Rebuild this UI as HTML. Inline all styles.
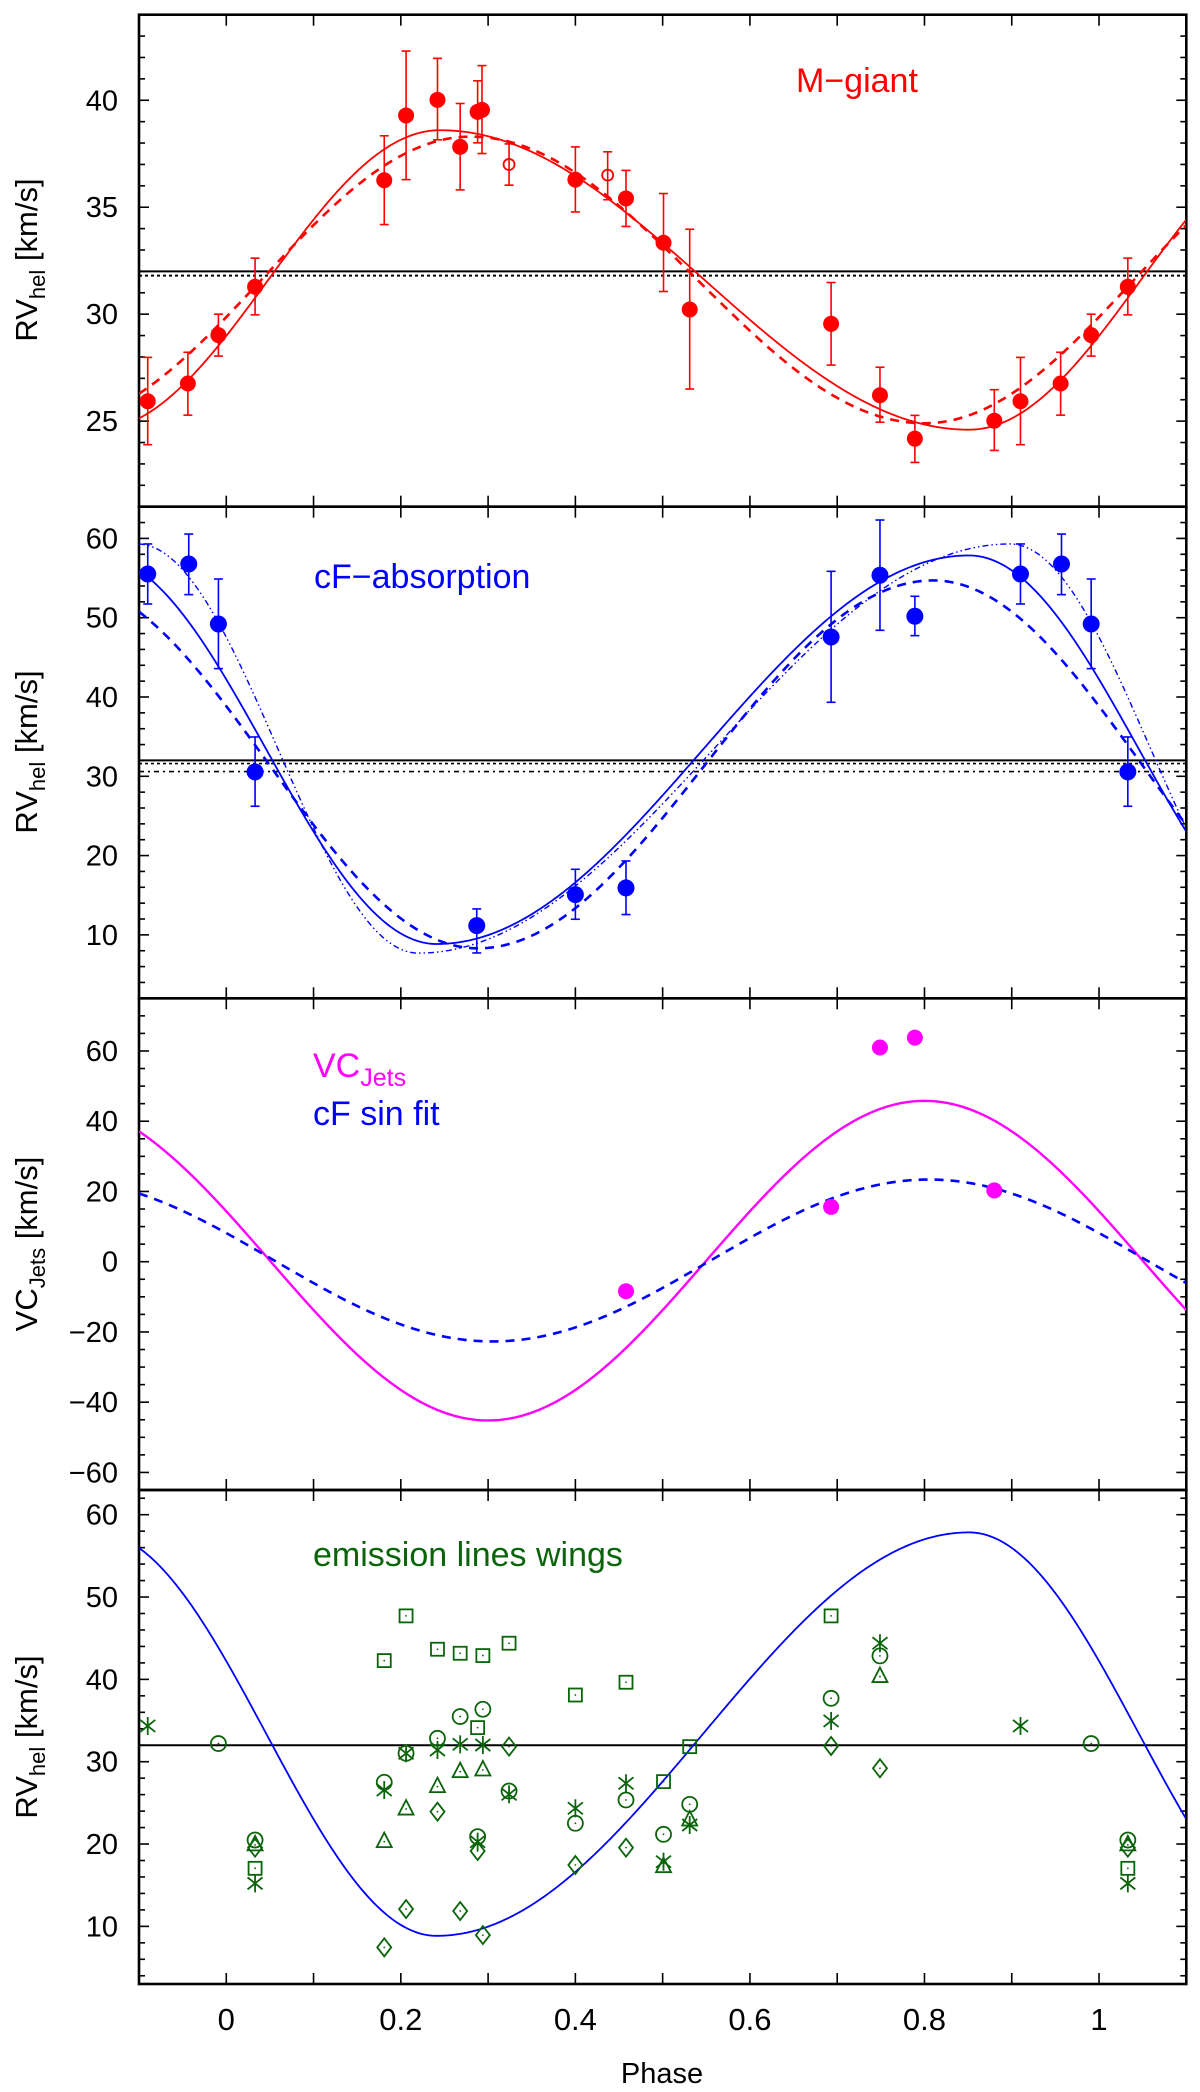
<!DOCTYPE html>
<html><head><meta charset="utf-8">
<style>
html,body{margin:0;padding:0;background:#fff;}
svg{display:block;font-family:"Liberation Sans",Arial,sans-serif;}
</style></head>
<body>
<svg id="chart" width="1200" height="2092" viewBox="0 0 1200 2092" xmlns="http://www.w3.org/2000/svg">
<defs>
<clipPath id="c0"><rect x="139" y="14.7" width="1047" height="492"/></clipPath>
<clipPath id="c1"><rect x="139" y="506.7" width="1047" height="491.6"/></clipPath>
<clipPath id="c2"><rect x="139" y="998.3" width="1047" height="491.7"/></clipPath>
<clipPath id="c3"><rect x="139" y="1490" width="1047" height="494"/></clipPath>
</defs>
</svg>
<script>
// ---------- data ----------
const mgPhase  = [0.181,0.206,0.242,0.268,0.288,0.293,0.400,0.458,0.501,0.531,0.693,0.749,0.789,0.880,0.910,0.956,0.991,0.033];
const mgValue  = [36.26,39.29,40.02,37.82,39.46,39.55,36.29,35.41,33.34,30.22,29.55,26.21,24.18,25.02,25.93,26.76,29.02,31.28];
const mgLow    = [34.19,36.29,38.15,35.81,38.01,37.51,34.78,34.10,31.06,26.50,27.62,24.95,23.07,23.63,23.90,25.28,28.04,29.97];
const mgHigh   = [38.34,42.30,41.96,39.85,40.91,41.62,37.82,36.72,35.64,33.97,31.48,27.52,25.27,26.47,27.98,28.22,30.00,32.62];
const mgOpenPhase = [0.324,0.437];
const mgOpenValue = [37.0,36.5];
const mgOpenLow   = [36.03,35.35];
const mgOpenHigh  = [37.96,37.59];
const cfPhase = [0.033,0.287,0.400,0.458,0.693,0.749,0.789,0.910,0.957,0.991];
const cfValue = [30.55,11.17,15.08,15.92,47.57,55.35,50.18,55.51,56.77,49.21];
const cfLow   = [26.22,7.72,11.97,12.56,39.33,48.41,47.74,51.73,52.91,43.58];
const cfHigh  = [34.96,13.27,18.27,19.32,55.85,62.32,52.70,59.30,60.55,54.88];
const jetPhase = [0.458,0.693,0.749,0.789,0.880];
const jetValue = [-8.4,15.6,61.0,63.8,20.3];
const sqPhase = [0.033,0.181,0.206,0.242,0.268,0.288,0.294,0.324,0.400,0.458,0.501,0.531,0.693];
const sqValue = [17.05,42.28,47.71,43.66,43.17,34.14,42.89,44.39,38.10,39.65,27.58,31.83,47.71];
const ciPhase = [0.033,0.181,0.206,0.242,0.268,0.288,0.294,0.324,0.400,0.458,0.501,0.531,0.693,0.749,0.991];
const ciValue = [20.49,27.50,31.02,32.84,35.48,20.90,36.37,26.44,22.52,25.35,21.18,24.82,37.70,42.85,32.20];
const stPhase = [0.033,0.181,0.206,0.242,0.268,0.288,0.294,0.324,0.400,0.458,0.501,0.531,0.693,0.749,0.910];
const stValue = [15.22,26.56,31.02,31.42,32.11,20.29,32.03,26.04,24.34,27.38,17.86,22.31,34.95,44.39,34.34];
const trPhase = [0.033,0.181,0.206,0.242,0.268,0.294,0.501,0.531,0.749];
const trValue = [19.9,20.29,24.25,26.97,28.79,28.99,17.25,22.92,40.34];
const dmPhase = [0.033,0.181,0.206,0.242,0.268,0.288,0.294,0.324,0.400,0.458,0.693,0.749];
const dmValue = [19.56,7.45,12.10,23.93,11.86,19.15,8.94,31.83,17.45,19.56,31.91,29.20];
// Fit curves: [phase of max, fraction falling, systemic, semi-amplitude]
const mgSolidFit  = [0.245,0.606,31.6,7.0];
const mgDashFit   = [0.28,0.52,31.6,6.7];
const cfSolidFit  = [0.851,0.39,33.35,24.5];
const cfDashFit   = [0.81,0.478,31.5,23.2];
const cfDotFit    = [0.898,0.322,33.5,25.8];
const jetFit      = [0.8,0.5,0.3,45.5];
const cfSinFit    = [0.805,0.5,0.35,23.05];
const xTickLabels = ["0","0.2","0.4","0.6","0.8","1"];
const xTickValues = [0,0.2,0.4,0.6,0.8,1];
const p1Ticks = [25,30,35,40];
const p2Ticks = [10,20,30,40,50,60];
const p3Ticks = [-60,-40,-20,0,20,40,60];
const p4Ticks = [10,20,30,40,50,60];

// ---------- layout ----------
const NS="http://www.w3.org/2000/svg";
const svg=document.getElementById('chart');
const X0=139, X1=1186.3, PMIN=-0.1, PMAX=1.1;
function xs(p){return X0+(p-PMIN)/(PMAX-PMIN)*(X1-X0);}
const panels=[
 {top:14.7,bot:506.7,vmin:21,vmax:44,major:p1Ticks,minor:1},
 {top:506.7,bot:998.3,vmin:2,vmax:64,major:p2Ticks,minor:2},
 {top:998.3,bot:1490,vmin:-65,vmax:75,major:p3Ticks,minor:5},
 {top:1490,bot:1984,vmin:3,vmax:63,major:p4Ticks,minor:2}];
function ys(i,v){const P=panels[i];return P.top+(P.vmax-v)/(P.vmax-P.vmin)*(P.bot-P.top);}
function mk(tag,attrs,parent){const e=document.createElementNS(NS,tag);for(const k in attrs)e.setAttribute(k,attrs[k]);(parent||svg).appendChild(e);return e;}
function fitVal(f,p){const d=(((p-f[0])%1)+1)%1;const u=d<f[1]?d/f[1]:1+(d-f[1])/(1-f[1]);return f[2]+f[3]*Math.cos(Math.PI*u);}
function copies(p){const r=[];for(const s of [-1,0,1]){const q=p+s;if(q>=PMIN-0.001&&q<=PMAX+0.001)r.push(q);}return r;}

function curve(i,f,color,dash,w,name){
 let d="";for(let k=0;k<=600;k++){const p=PMIN+(PMAX-PMIN)*k/600;d+=(k?"L":"M")+xs(p).toFixed(2)+","+ys(i,fitVal(f,p)).toFixed(2);}
 const e=mk('path',{d:d,fill:'none',stroke:color,'stroke-width':w,'clip-path':'url(#c'+i+')'});
 if(dash)e.setAttribute('stroke-dasharray',dash);
 
 
}
function hline(i,v,dash,w,name){
 const e=mk('line',{x1:X0,x2:X1,y1:ys(i,v),y2:ys(i,v),stroke:'#000','stroke-width':w});
 if(dash)e.setAttribute('stroke-dasharray',dash);
 
 
}
function errPoint(i,p,v,lo,hi,color,r,open,name){
 const g=mk('g',{});
 
 
 const x=xs(p);
 mk('line',{x1:x,x2:x,y1:ys(i,lo),y2:ys(i,hi),stroke:color,'stroke-width':1.6},g);
 mk('line',{x1:x-4.5,x2:x+4.5,y1:ys(i,lo),y2:ys(i,lo),stroke:color,'stroke-width':1.6},g);
 mk('line',{x1:x-4.5,x2:x+4.5,y1:ys(i,hi),y2:ys(i,hi),stroke:color,'stroke-width':1.6},g);
 if(open)mk('circle',{cx:x,cy:ys(i,v),r:r-1.5,fill:'none',stroke:color,'stroke-width':1.8},g);
 else mk('circle',{cx:x,cy:ys(i,v),r:r,fill:color},g);
}

panels.forEach((P,i)=>{
 const fr=mk('rect',{x:X0,y:P.top,width:X1-X0,height:P.bot-P.top,fill:'none',stroke:'#000','stroke-width':2.6});
 
 
 const tg=mk('g',{stroke:'#000','stroke-width':1.6});
 
 
 for(let k=-1;k<=11;k++){const x=xs(k/10);if(x<X0+2||x>X1-2)continue;
  mk('line',{x1:x,x2:x,y1:P.top,y2:P.top+11},tg);mk('line',{x1:x,x2:x,y1:P.bot,y2:P.bot-11},tg);}
 for(let v=Math.ceil(P.vmin/P.minor)*P.minor;v<=P.vmax;v+=P.minor){const y=ys(i,v);
  if(y<P.top+2||y>P.bot-2)continue;const L=P.major.includes(v)?10:6;
  mk('line',{x1:X0,x2:X0+L,y1:y,y2:y},tg);mk('line',{x1:X1,x2:X1-L,y1:y,y2:y},tg);}
 P.major.forEach(v=>{const t=mk('text',{x:118,y:ys(i,v)+10,'font-size':29,'text-anchor':'end',fill:'#000'});t.textContent=String(v).replace('-','\u2212');
  
  });
});

function ytitle(cy,main,sub,name){
 const t=mk('text',{transform:'translate(37,'+cy+') rotate(-90)','font-size':31,'text-anchor':'middle',fill:'#000'});
 t.innerHTML=main+'<tspan font-size="22" dy="8">'+sub+'</tspan><tspan dy="-8"> [km/s]</tspan>';
 
 
}
ytitle(260,'RV','hel','y-axis-title-panel1');
ytitle(752,'RV','hel','y-axis-title-panel2');
ytitle(1244,'VC','Jets','y-axis-title-panel3');
ytitle(1737,'RV','hel','y-axis-title-panel4');

xTickValues.forEach((v,k)=>{const t=mk('text',{x:xs(v),y:2030,'font-size':31,'text-anchor':'middle',fill:'#000'});t.textContent=xTickLabels[k];
 
 });
const xt=mk('text',{x:662,y:2083,'font-size':29,'text-anchor':'middle',fill:'#000'});xt.textContent='Phase';



// Panel 1
hline(0,32.0,null,2,'systemic-velocity-line');
hline(0,31.8,'3,3',2,'systemic-velocity-dotted-line');
curve(0,mgSolidFit,'#ff0000',null,1.8,'mgiant-solid-fit');
curve(0,mgDashFit,'#ff0000','9,7',2.6,'mgiant-dashed-fit');
mgPhase.forEach((p,k)=>copies(p).forEach(q=>errPoint(0,q,mgValue[k],mgLow[k],mgHigh[k],'#ff0000',8,false,'mgiant-point')));
mgOpenPhase.forEach((p,k)=>copies(p).forEach(q=>errPoint(0,q,mgOpenValue[k],mgOpenLow[k],mgOpenHigh[k],'#ff0000',7,true,'mgiant-open-point')));
let t=mk('text',{x:796,y:92,'font-size':34,fill:'#ff0000'});t.textContent='M\u2212giant';



// Panel 2
hline(1,32.0,null,2,'systemic-velocity-line-2');
hline(1,31.6,'3,3',1.6,'systemic-dotted-line-2');
hline(1,30.6,'5,4,2,4',1.6,'systemic-dashdot-line-2');
curve(1,cfSolidFit,'#0000ff',null,1.8,'cf-solid-fit');
curve(1,cfDashFit,'#0000ff','9,7',2.6,'cf-dashed-fit');
curve(1,cfDotFit,'#0000ff','6,3,1.5,3,1.5,3',1.4,'cf-dashdot-fit');
cfPhase.forEach((p,k)=>copies(p).forEach(q=>errPoint(1,q,cfValue[k],cfLow[k],cfHigh[k],'#0000ff',8.5,false,'cf-point')));
t=mk('text',{x:314,y:588,'font-size':34,fill:'#0000ff'});t.textContent='cF\u2212absorption';



// Panel 3
curve(2,jetFit,'#ff00ff',null,2.4,'jets-fit');
curve(2,cfSinFit,'#0000ff','9,7',2.6,'cf-sin-fit');
jetPhase.forEach((p,k)=>{const c=mk('circle',{cx:xs(p),cy:ys(2,jetValue[k]),r:8,fill:'#ff00ff'});
 
 });
t=mk('text',{x:313,y:1077,'font-size':34,fill:'#ff00ff'});t.innerHTML='VC<tspan font-size="25" dy="9">Jets</tspan>';


t=mk('text',{x:313,y:1125,'font-size':34,fill:'#0000ff'});t.textContent='cF sin fit';



// Panel 4
hline(3,32.0,null,2,'systemic-velocity-line-4');
curve(3,cfSolidFit,'#0000ff',null,1.8,'cf-solid-fit-4');
const G='#0a640a';
function marker(type,p,v){
 const g=mk('g',{fill:'none',stroke:G,'stroke-width':1.8});
 
 
 const x=xs(p),y=ys(3,v);
 if(type==='square')mk('rect',{x:x-6.5,y:y-6.5,width:13,height:13},g);
 if(type==='circle')mk('circle',{cx:x,cy:y,r:7.5},g);
 if(type==='triangle')mk('polygon',{points:`${x},${y-9} ${x-7.5},${y+5.5} ${x+7.5},${y+5.5}`},g);
 if(type==='diamond')mk('polygon',{points:`${x},${y-9} ${x+7},${y} ${x},${y+9} ${x-7},${y}`},g);
 if(type==='star'){mk('line',{x1:x,x2:x,y1:y-9,y2:y+9},g);mk('line',{x1:x-7.5,x2:x+7.5,y1:y-6,y2:y+6},g);mk('line',{x1:x-7.5,x2:x+7.5,y1:y+6,y2:y-6},g);}
 else mk('circle',{cx:x,cy:y,r:0.9,fill:G,stroke:'none'},g);
}
sqPhase.forEach((p,k)=>copies(p).forEach(q=>marker('square',q,sqValue[k])));
ciPhase.forEach((p,k)=>copies(p).forEach(q=>marker('circle',q,ciValue[k])));
stPhase.forEach((p,k)=>copies(p).forEach(q=>marker('star',q,stValue[k])));
trPhase.forEach((p,k)=>copies(p).forEach(q=>marker('triangle',q,trValue[k])));
dmPhase.forEach((p,k)=>copies(p).forEach(q=>marker('diamond',q,dmValue[k])));
t=mk('text',{x:313,y:1566,'font-size':34,fill:G});t.textContent='emission lines wings';


</script>
</body></html>
